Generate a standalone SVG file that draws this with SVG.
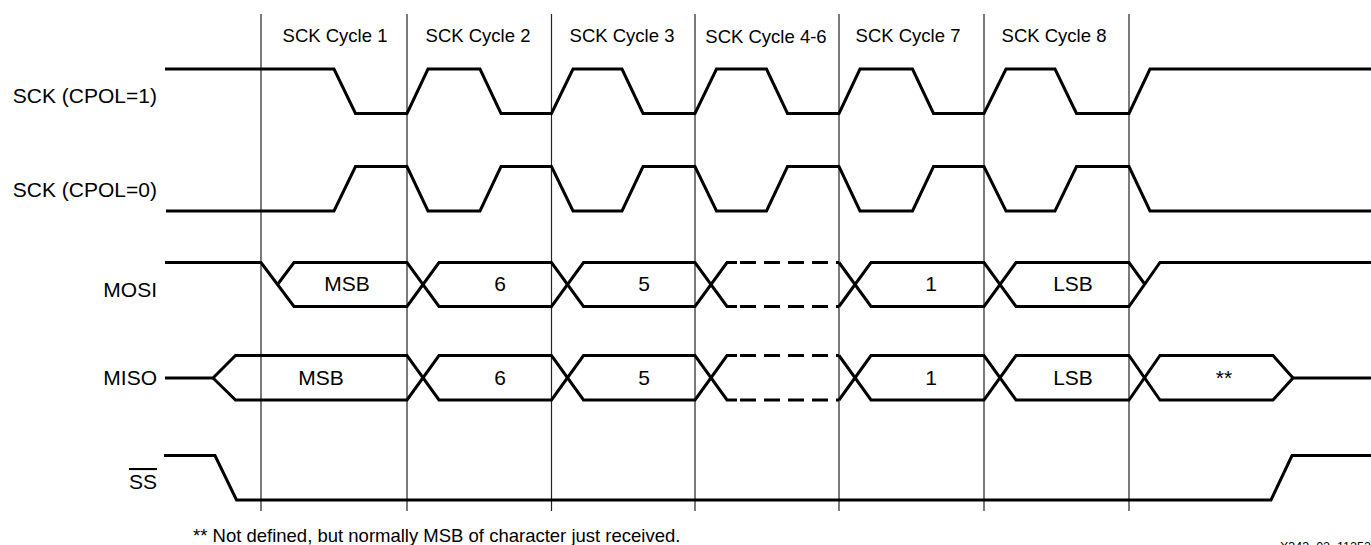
<svg xmlns="http://www.w3.org/2000/svg" width="1371" height="545" viewBox="0 0 1371 545">
<style>
  text { font-family: "Liberation Sans", Arial, sans-serif; fill: #000; }
  .lbl { font-size: 21px; text-anchor: end; }
  .cyc { font-size: 18.5px; text-anchor: middle; }
  .cell { font-size: 21px; text-anchor: middle; }
  .sig { fill: none; stroke: #000; stroke-width: 3; stroke-linejoin: miter; stroke-linecap: butt; }
  .dash { fill: none; stroke: #000; stroke-width: 3; stroke-dasharray: 16 8; }
  .grid { stroke: #222; stroke-width: 1.2; }
  .note { font-size: 18.5px; }
</style>
<rect width="1371" height="545" fill="#fff"/>
<g id="grid">
  <line class="grid" x1="261" y1="14" x2="261" y2="511"/>
  <line class="grid" x1="407" y1="14" x2="407" y2="511"/>
  <line class="grid" x1="551.5" y1="14" x2="551.5" y2="511"/>
  <line class="grid" x1="695" y1="14" x2="695" y2="511"/>
  <line class="grid" x1="839" y1="14" x2="839" y2="511"/>
  <line class="grid" x1="984" y1="14" x2="984" y2="511"/>
  <line class="grid" x1="1129" y1="14" x2="1129" y2="511"/>
</g>
<g id="cycle-labels">
  <text class="cyc" x="335" y="41.5">SCK Cycle 1</text>
  <text class="cyc" x="478" y="41.5">SCK Cycle 2</text>
  <text class="cyc" x="622" y="41.5">SCK Cycle 3</text>
  <text class="cyc" x="766" y="43">SCK Cycle 4-6</text>
  <text class="cyc" x="908" y="41.5">SCK Cycle 7</text>
  <text class="cyc" x="1054" y="41.5">SCK Cycle 8</text>
</g>
<g id="sck-cpol1">
  <text class="lbl" x="157" y="102.5">SCK (CPOL=1)</text>
  <path class="sig" d="M165,69 H334 L355.5,113.5 H407 L428,69 H480 L501,113.5 H551.5 L573,69 H622 L643,113.5 H695 L716.5,69 H766.5 L787.5,113.5 H839 L860,69 H912.5 L933.5,113.5 H984 L1006,69 H1055 L1076.5,113.5 H1129 L1150,69 H1371"/>
</g>
<g id="sck-cpol0">
  <text class="lbl" x="157" y="196.5">SCK (CPOL=0)</text>
  <path class="sig" d="M166,211 H334 L355.5,166.5 H407 L428,211 H480 L501,166.5 H551.5 L573,211 H622 L643,166.5 H695 L716.5,211 H766.5 L787.5,166.5 H839 L860,211 H912.5 L933.5,166.5 H984 L1006,211 H1055 L1076.5,166.5 H1129 L1150,211 H1371"/>
</g>
<g id="mosi">
  <text class="lbl" x="157" y="296.5">MOSI</text>
  <path class="sig" d="M165,262.5 H261 L294,306.5 H407 L439,262.5 H551.5 L583.5,306.5 H695 L727,262.5 H737"/>
  <path class="sig" d="M277.5,284.5 L294,262.5 H407 L439,306.5 H551.5 L583.5,262.5 H695 L727,306.5 H737"/>
  <path class="dash" d="M740,262.5 H839"/>
  <path class="dash" d="M740,306.5 H839"/>
  <path class="sig" d="M839,262.5 L871,306.5 H984 L1016,262.5 H1129 L1145,284.5"/>
  <path class="sig" d="M839,306.5 L871,262.5 H984 L1016,306.5 H1129 L1160,262.5 H1371"/>
  <text class="cell" x="347" y="291">MSB</text>
  <text class="cell" x="500" y="291">6</text>
  <text class="cell" x="644" y="291">5</text>
  <text class="cell" x="931" y="291">1</text>
  <text class="cell" x="1073" y="291">LSB</text>
</g>
<g id="miso">
  <text class="lbl" x="157" y="385">MISO</text>
  <path class="sig" d="M165,378 H213 L235.5,355.5 H407 L439,400 H551.5 L583.5,355.5 H695 L727,400 H737"/>
  <path class="sig" d="M213,378 L235.5,400 H407 L439,355.5 H551.5 L583.5,400 H695 L727,355.5 H737"/>
  <path class="dash" d="M740,355.5 H839"/>
  <path class="dash" d="M740,400 H839"/>
  <path class="sig" d="M839,355.5 L871,400 H984 L1016,355.5 H1129 L1160,400 H1273 L1293,378 H1371"/>
  <path class="sig" d="M839,400 L871,355.5 H984 L1016,400 H1129 L1160,355.5 H1273 L1293,378"/>
  <text class="cell" x="321" y="385">MSB</text>
  <text class="cell" x="500" y="385">6</text>
  <text class="cell" x="644" y="385">5</text>
  <text class="cell" x="931" y="385">1</text>
  <text class="cell" x="1073" y="385">LSB</text>
  <text class="cell" x="1224" y="385">**</text>
</g>
<g id="ss">
  <text class="lbl" x="157" y="489" text-decoration="overline">SS</text>
  <path class="sig" d="M164,455.5 H215 L236.5,500 H1271 L1292,455.5 H1371"/>
</g>
<g id="notes">
  <text class="note" x="193" y="541.5">** Not defined, but normally MSB of character just received.</text>
  <text x="1280" y="551" font-size="12.5">X343_02_11252</text>
</g>
</svg>
